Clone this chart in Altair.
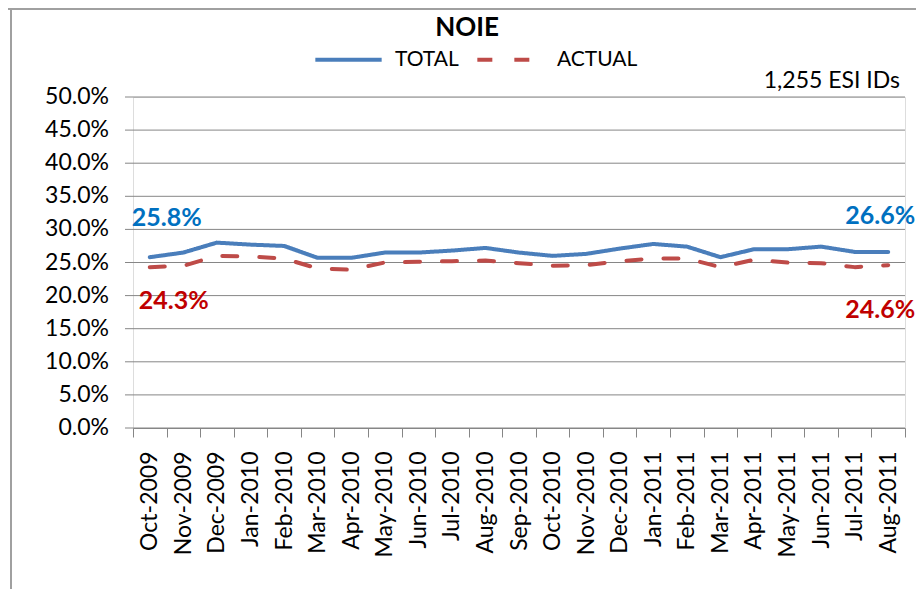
import altair as alt
import pandas as pd

months = ["Oct-2009", "Nov-2009", "Dec-2009", "Jan-2010", "Feb-2010", "Mar-2010",
          "Apr-2010", "May-2010", "Jun-2010", "Jul-2010", "Aug-2010", "Sep-2010",
          "Oct-2010", "Nov-2010", "Dec-2010", "Jan-2011", "Feb-2011", "Mar-2011",
          "Apr-2011", "May-2011", "Jun-2011", "Jul-2011", "Aug-2011"]
total = [0.258, 0.265, 0.280, 0.277, 0.275, 0.257, 0.257, 0.265, 0.265, 0.268,
         0.272, 0.265, 0.260, 0.263, 0.271, 0.278, 0.274, 0.258, 0.270, 0.270,
         0.274, 0.266, 0.266]
actual = [0.243, 0.245, 0.260, 0.259, 0.256, 0.241, 0.239, 0.250, 0.251, 0.252,
          0.253, 0.249, 0.245, 0.246, 0.252, 0.256, 0.256, 0.243, 0.254, 0.250,
          0.249, 0.243, 0.246]
series_names = ["TOTAL", "ACTUAL"]
y_ticks = [0.0, 0.05, 0.10, 0.15, 0.20, 0.25, 0.30, 0.35, 0.40, 0.45, 0.50]

rows = []
for i, m in enumerate(months):
    rows.append({"month": m, "series": "TOTAL", "value": total[i], "idx": i})
    rows.append({"month": m, "series": "ACTUAL", "value": actual[i], "idx": i})
df = pd.DataFrame(rows)
last = len(months) - 1

FONT = "Lato"
GRAY = "#868686"
yscale = alt.Scale(domain=[0, 0.5], nice=False, zero=True)

x = alt.X("month:N", sort=months, scale=alt.Scale(paddingInner=0, paddingOuter=0),
          axis=alt.Axis(title=None, labelAngle=270, tickBand="extent", tickSize=9,
                        tickColor=GRAY, domainColor=GRAY, labelPadding=14,
                        labelFont=FONT, labelFontSize=23, labelColor="#000000",
                        grid=False, labelOverlap=False))
y = alt.Y("value:Q", scale=yscale,
          axis=alt.Axis(title=None, values=y_ticks, labels=False, ticks=False, grid=False,
                        domainColor=GRAY))

base = alt.Chart(df)

# y gridlines, ticks and tick labels, drawn from the tick list through the y scale
ticks_df = pd.DataFrame({"tick": y_ticks})
ty = alt.Y("tick:Q", scale=yscale, axis=None)
grid = alt.Chart(ticks_df).mark_rule(color=GRAY, strokeWidth=1).encode(
    y=ty, x=alt.value(-8), x2=alt.value(772))
tick_labels = alt.Chart(ticks_df).mark_text(
    font=FONT, fontSize=23, align="right", baseline="middle", color="#000000").encode(
    y=ty, x=alt.value(-24), text=alt.Text("tick:Q", format=".1%"))

lines = base.mark_line(strokeWidth=4, strokeCap="round", strokeJoin="round").encode(
    x=x, y=y,
    color=alt.Color("series:N", scale=alt.Scale(domain=series_names, range=["#4A7EBB", "#BE4B48"]),
                    legend=alt.Legend(title=None, orient="none", direction="horizontal",
                                      legendX=180, legendY=-73, symbolType="stroke",
                                      symbolSize=4400, symbolStrokeWidth=4,
                                      labelFont=FONT, labelFontSize=21, labelColor="#000000",
                                      labelOffset=11, columnPadding=10, padding=0)),
    strokeDash=alt.StrokeDash("series:N", scale=alt.Scale(domain=series_names,
                                                          range=[[1, 0], [15, 22]])),
)

def label(series, idx, dx, dy, color):
    return base.transform_filter(
        (alt.datum.series == series) & (alt.datum.idx == idx)
    ).mark_text(font=FONT, fontSize=25, fontWeight="bold", color=color,
                align="center", baseline="middle", dx=dx, dy=dy).encode(
        x=x, y=y, text=alt.Text("value:Q", format=".1%"))

labels = (label("TOTAL", 0, 17, -39, "#0070C0") + label("ACTUAL", 0, 24, 34, "#C00000") +
          label("TOTAL", last, -8, -36, "#0070C0") + label("ACTUAL", last, -8, 45, "#C00000"))

one = alt.Chart(pd.DataFrame({"note": ["1,255 ESI IDs"], "title": ["NOIE"]}))
title = one.mark_text(font=FONT, fontSize=26, fontWeight="bold", align="center",
                      baseline="middle", color="#000000").encode(
    x=alt.value(334), y=alt.value(-69), text="title:N")
note = one.mark_text(font=FONT, fontSize=23, align="right", baseline="middle",
                     color="#000000").encode(x=alt.value(767), y=alt.value(-16), text="note:N")
left_border = one.mark_rule(color="#A0A0A0", strokeWidth=2).encode(
    x=alt.value(-122), y=alt.value(-89), y2=alt.value(492))
top_border = one.mark_rule(color="#A0A0A0", strokeWidth=2).encode(
    x=alt.value(-125), x2=alt.value(783), y=alt.value(-88))

chart = alt.layer(left_border, top_border, grid, tick_labels, lines, labels, title, note).properties(
    width=772, height=331,
    autosize=alt.AutoSizeParams(type="none"),
    padding={"left": 125, "top": 89, "right": 11, "bottom": 161},
).configure_view(stroke=None).configure(background="white")

chart.save("out.html", embed_options={"renderer": "svg", "actions": False})
